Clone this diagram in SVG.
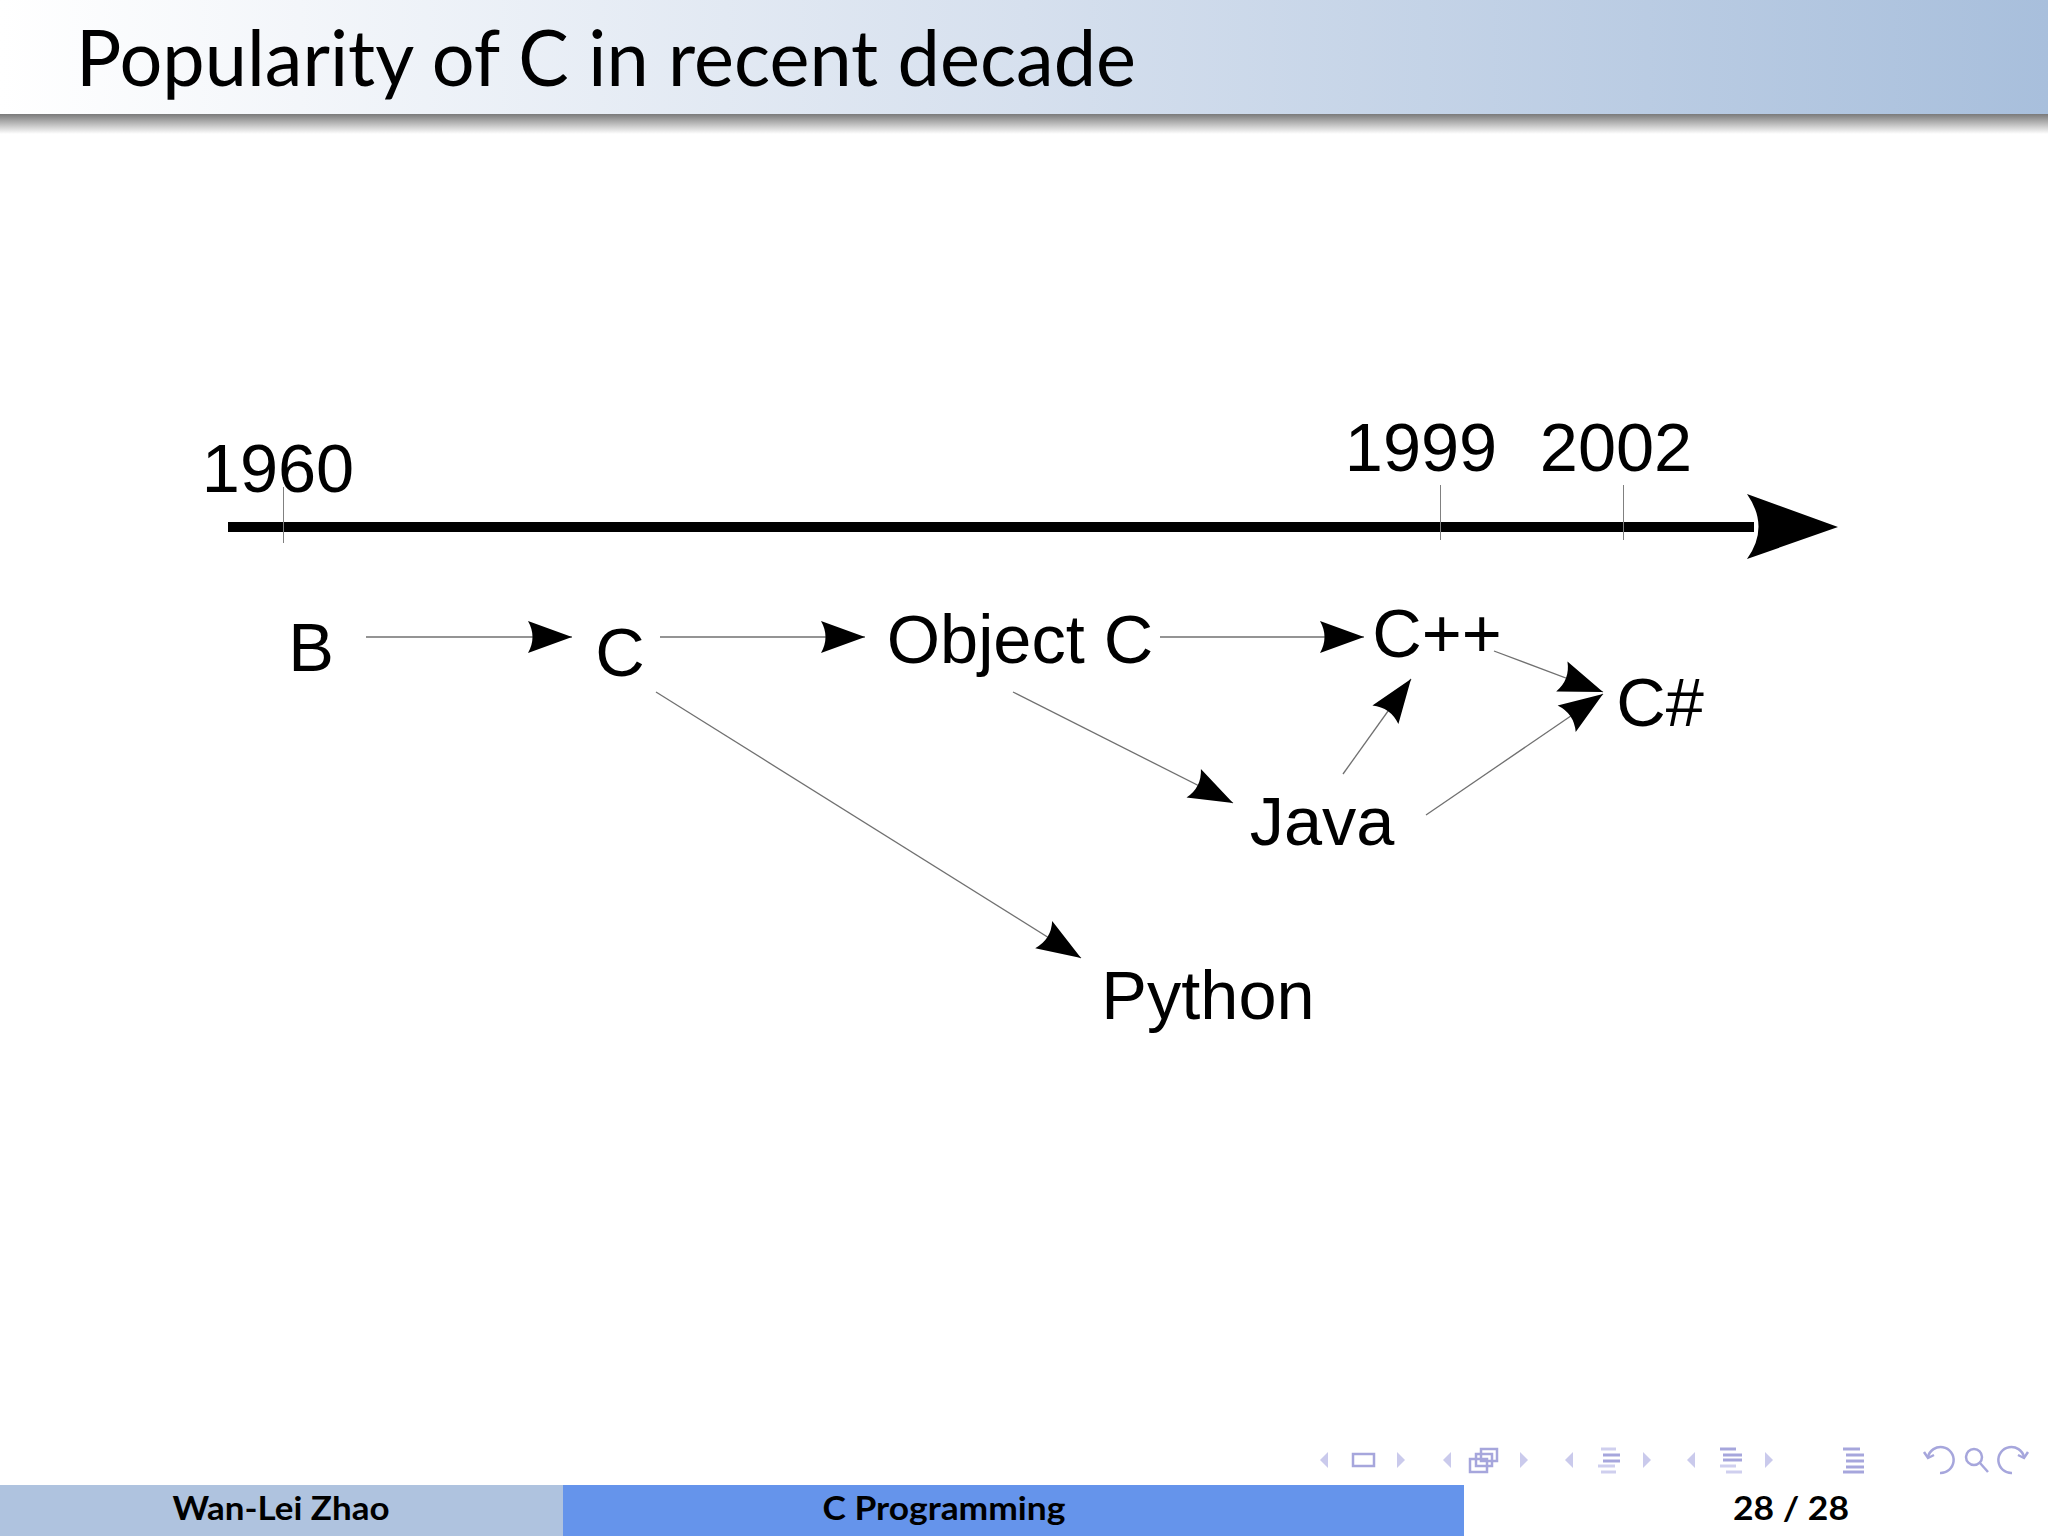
<svg xmlns="http://www.w3.org/2000/svg" width="2048" height="1536" viewBox="0 0 2048 1536">
<defs>
<linearGradient id="hdr" x1="0" y1="0" x2="1" y2="0">
<stop offset="0" stop-color="#ffffff"/>
<stop offset="0.5" stop-color="#d6e0ee"/>
<stop offset="1" stop-color="#a8bfdc"/>
</linearGradient>
<linearGradient id="shd" x1="0" y1="0" x2="0" y2="1">
<stop offset="0" stop-color="#7a7a7a"/>
<stop offset="1" stop-color="#ffffff"/>
</linearGradient>
<marker id="ah" markerUnits="userSpaceOnUse" viewBox="-50 -20 60 40" refX="0" refY="0" markerWidth="60" markerHeight="40" orient="auto" overflow="visible">
<path d="M0,0 L-44,-16 Q-35,0 -44,16 Z" fill="#000"/>
</marker>
<style>
.lbl{font-family:"Liberation Sans",Arial,sans-serif;font-size:68.5px;fill:#000;text-anchor:middle}
.con{stroke:#707070;stroke-width:1.3;fill:none;marker-end:url(#ah)}
.tick{stroke:#808080;stroke-width:1}
.foot{font-family:Lato,"Liberation Sans",sans-serif;font-weight:700;font-size:32px;fill:#000;text-anchor:middle}
.nt{fill:#cacaec}
.ns{stroke:#a6a6dc;stroke-width:2.5;fill:none}
.nl{stroke:#a6a6dc;stroke-width:3}
.nl2{stroke:#cfcfee;stroke-width:3}
</style>
</defs>
<rect x="0" y="0" width="2048" height="1536" fill="#ffffff"/>
<g id="header">
<rect x="0" y="0" width="2048" height="114" fill="url(#hdr)"/>
<rect x="0" y="114" width="2048" height="20" fill="url(#shd)"/>
<text x="76" y="86" font-family="Lato,'Liberation Sans',sans-serif" font-size="78" fill="#000" textLength="1060" lengthAdjust="spacingAndGlyphs">Popularity of C in recent decade</text>
</g>
<g id="timeline">
<line x1="228" y1="527" x2="1754" y2="527" stroke="#000" stroke-width="10"/>
<path d="M1838,527 L1747,494 Q1770,527 1747,559 Z" fill="#000"/>
<line class="tick" x1="283.5" y1="487" x2="283.5" y2="543"/>
<line class="tick" x1="1440.5" y1="485" x2="1440.5" y2="540"/>
<line class="tick" x1="1623.5" y1="485" x2="1623.5" y2="540"/>
<text class="lbl" x="278" y="492">1960</text>
<text class="lbl" x="1421" y="471">1999</text>
<text class="lbl" x="1616" y="471">2002</text>
</g>
<g id="connectors">
<line class="con" x1="366" y1="637" x2="572" y2="637"/>
<line class="con" x1="660" y1="637" x2="865" y2="637"/>
<line class="con" x1="1160" y1="637" x2="1364" y2="637"/>
<line class="con" x1="656" y1="692" x2="1081" y2="958"/>
<line class="con" x1="1013" y1="692" x2="1233" y2="803"/>
<line class="con" x1="1343" y1="774" x2="1411" y2="679"/>
<line class="con" x1="1494" y1="651" x2="1603" y2="692"/>
<line class="con" x1="1426" y1="815" x2="1603" y2="694"/>
</g>
<g id="node-B"><text class="lbl" x="311" y="671">B</text></g>
<g id="node-C"><text class="lbl" x="620" y="676">C</text></g>
<g id="node-ObjectC"><text class="lbl" x="1020" y="663">Object C</text></g>
<g id="node-Cpp"><text class="lbl" x="1437" y="657">C++</text></g>
<g id="node-Csharp"><text class="lbl" x="1660" y="726">C#</text></g>
<g id="node-Java"><text class="lbl" x="1322" y="845">Java</text></g>
<g id="node-Python"><text class="lbl" x="1208" y="1019">Python</text></g>
<g id="nav">
<path class="nt" d="M1328,1452 L1328,1468 L1320,1460 Z"/>
<rect class="ns" x="1353" y="1454" width="21" height="12"/>
<path class="nt" d="M1397,1452 L1397,1468 L1405,1460 Z"/>
<path class="nt" d="M1451,1452 L1451,1468 L1443,1460 Z"/>
<rect class="ns" x="1481" y="1449" width="16" height="12" fill="#fff"/>
<rect class="ns" x="1476" y="1454" width="16" height="12" fill="#fff"/>
<rect class="ns" x="1470" y="1459" width="17" height="13" fill="#fff"/>
<path class="nt" d="M1520,1452 L1520,1468 L1528,1460 Z"/>
<path class="nt" d="M1573,1452 L1573,1468 L1565,1460 Z"/>
<line class="nl2" x1="1601" y1="1449" x2="1616" y2="1449"/>
<line class="nl" x1="1603" y1="1455" x2="1620" y2="1455"/>
<line class="nl" x1="1603" y1="1461" x2="1620" y2="1461"/>
<line class="nl2" x1="1598" y1="1466" x2="1615" y2="1466"/>
<line class="nl2" x1="1601" y1="1472" x2="1616" y2="1472"/>
<path class="nt" d="M1643,1452 L1643,1468 L1651,1460 Z"/>
<path class="nt" d="M1695,1452 L1695,1468 L1687,1460 Z"/>
<line class="nl" x1="1720" y1="1449" x2="1736" y2="1449"/>
<line class="nl" x1="1723" y1="1455" x2="1742" y2="1455"/>
<line class="nl" x1="1723" y1="1460" x2="1742" y2="1460"/>
<line class="nl2" x1="1720" y1="1466" x2="1736" y2="1466"/>
<line class="nl2" x1="1726" y1="1472" x2="1742" y2="1472"/>
<path class="nt" d="M1765,1452 L1765,1468 L1773,1460 Z"/>
<line class="nl" x1="1843" y1="1449" x2="1860" y2="1449"/>
<line class="nl" x1="1846" y1="1455" x2="1864" y2="1455"/>
<line class="nl" x1="1846" y1="1461" x2="1864" y2="1461"/>
<line class="nl" x1="1846" y1="1467" x2="1864" y2="1467"/>
<line class="nl" x1="1843" y1="1472" x2="1864" y2="1472"/>
<path class="ns" d="M1928,1457 A13,13 0 1 1 1940,1473"/>
<path class="ns" d="M1924,1452 L1928,1458 L1934,1455"/>
<circle class="ns" cx="1974" cy="1457" r="8"/>
<line class="ns" x1="1980" y1="1463" x2="1988" y2="1472"/>
<path class="ns" d="M2024,1457 A13,13 0 1 0 2012,1473"/>
<path class="ns" d="M2028,1452 L2024,1458 L2018,1455"/>
</g>
<g id="footer">
<rect x="0" y="1485" width="563" height="51" fill="#afc3df"/>
<rect x="563" y="1485" width="901" height="51" fill="#6594eb"/>
<text class="foot" x="281" y="1520" textLength="217" lengthAdjust="spacingAndGlyphs">Wan-Lei Zhao</text>
<text class="foot" x="944" y="1520" textLength="243" lengthAdjust="spacingAndGlyphs">C Programming</text>
<text class="foot" x="1791" y="1520" textLength="116" lengthAdjust="spacingAndGlyphs">28 / 28</text>
</g>
</svg>
